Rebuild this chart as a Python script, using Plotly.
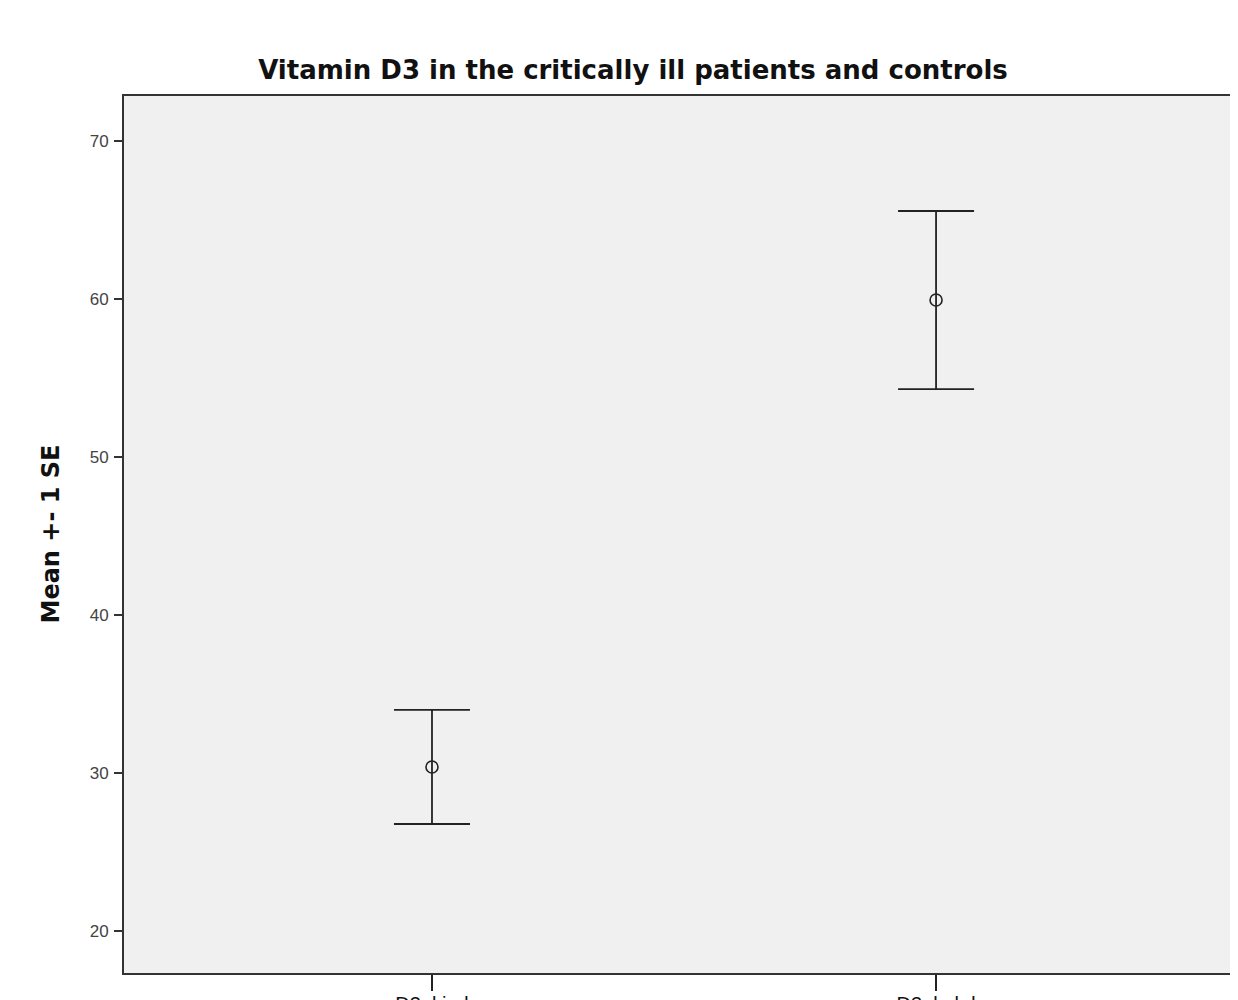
import plotly.graph_objects as go

categories = ["D3ukind", "D3ukukd"]
means = [30.38, 59.94]
upper = [33.99, 65.57]
lower = [26.77, 54.30]
y_ticks = [20, 30, 40, 50, 60, 70]

err_plus = [u - m for u, m in zip(upper, means)]
err_minus = [m - l for m, l in zip(means, lower)]

W, H = 1230, 992
ML, MT, MB = 116, 88, 27

fig = go.Figure()
fig.add_trace(go.Scatter(
    x=[0, 1], y=means, mode="markers",
    marker=dict(symbol="circle-open", size=12, color="#222", line=dict(width=1.6, color="#222")),
    error_y=dict(type="data", symmetric=False, array=err_plus, arrayminus=err_minus,
                 color="#222", thickness=1.8, width=38),
    showlegend=False,
))

fig.update_layout(
    width=W, height=H,
    margin=dict(l=ML, r=0, t=MT, b=MB, autoexpand=False),
    paper_bgcolor="white", plot_bgcolor="#f0f0f0",
    title=dict(text="<b>Vitamin D3 in the critically ill patients and controls</b>",
               x=(633 - 8) / W, xanchor="center", y=1 - (70 - 8) / H, yanchor="middle",
               font=dict(family="DejaVu Sans", size=26, color="#111")),
    font=dict(family="Liberation Sans, Arial", color="#222"),
)
fig.add_annotation(
    text="<b>Mean +- 1 SE</b>", textangle=-90, showarrow=False,
    xref="paper", yref="paper", x=(50 - 8 - ML) / (W - ML), y=0.5,
    xanchor="center", yanchor="middle",
    font=dict(family="DejaVu Sans", size=24, color="#111"),
)
fig.update_xaxes(
    range=[-0.611, 1.599], tickvals=[0, 1], ticktext=categories,
    showgrid=False, zeroline=False, showline=True, linecolor="#333", linewidth=2,
    ticks="outside", ticklen=16, tickwidth=2, tickcolor="#222", automargin=False,
    tickfont=dict(size=20, color="#111"), ticklabelstandoff=-4, mirror=True,
)
fig.update_yaxes(
    range=[17.34, 72.85], tickvals=y_ticks, ticktext=[str(v) for v in y_ticks],
    showgrid=False, zeroline=False, showline=True, linecolor="#333", linewidth=2,
    ticks="outside", ticklen=8, tickwidth=2, tickcolor="#333", automargin=False,
    tickfont=dict(size=17, color="#444"), ticklabelstandoff=2,
)
fig.write_html("out.html")
